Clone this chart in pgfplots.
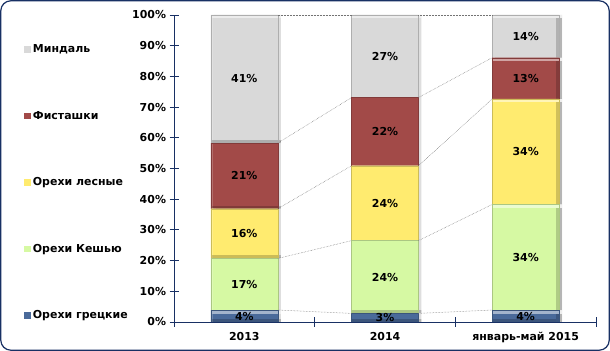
\documentclass[border=0pt]{standalone}
\usepackage{pgfplots}
\pgfplotsset{compat=1.18}
\usepackage{pgfplotstable}
\usepackage{fontspec}
\setmainfont{DejaVu Sans}
\definecolor{navy}{RGB}{24,48,100}
\definecolor{cBlue}{RGB}{74,106,154}
\definecolor{cGreen}{RGB}{214,249,163}
\definecolor{cYellow}{RGB}{255,235,111}
\definecolor{cRed}{RGB}{162,74,72}
\definecolor{cGray}{RGB}{217,217,217}

\pgfplotstableread{
x grec kesh lesn fist mind
0 3.9 16.8 16.2 21.4 41.7
1 2.8 23.7 24.4 22.2 26.9
2 3.9 34.4 34.4 13.4 13.9
}\shares

\pgfplotstableread{
x y l
0 1.95 4
0 12.3 17
0 28.8 16
0 47.6 21
0 79.15 41
1 1.4 3
1 14.65 24
1 38.7 24
1 62.0 22
1 86.55 27
2 1.95 4
2 21.1 34
2 55.5 34
2 79.4 13
2 93.05 14
}\labels

\pgfplotstableread{
x grec kesh lesn fist mind
0.238 3.9 20.7 36.9 58.3 100
0.762 2.8 26.5 50.9 73.1 100
nan nan nan nan nan nan
1.238 2.8 26.5 50.9 73.1 100
1.762 3.9 38.3 72.7 86.1 100
}\serieslines

\newcommand{\ppa}[1]{\pgfpointanchor{path picture bounding box}{#1}}
\tikzset{bevel/.style={
  preaction={fill=black, fill opacity=0.13, draw=none, transform canvas={xshift=3bp}},
  path picture={
    \pgfsetfillopacity{0.5}\pgfsetfillcolor{white}%
    \pgfpathrectanglecorners{\ppa{north west}}{\pgfpointadd{\ppa{north east}}{\pgfpoint{0bp}{-3.5bp}}}%
    \pgfusepath{fill}%
    \pgfsetfillopacity{0.2}%
    \pgfpathrectanglecorners{\ppa{south west}}{\pgfpointadd{\ppa{north west}}{\pgfpoint{2.5bp}{-3.5bp}}}%
    \pgfusepath{fill}%
    \pgfsetfillopacity{0.18}\pgfsetfillcolor{black}%
    \pgfpathrectanglecorners{\pgfpointadd{\ppa{south east}}{\pgfpoint{-3bp}{0bp}}}{\pgfpointadd{\ppa{north east}}{\pgfpoint{0bp}{-3.5bp}}}%
    \pgfusepath{fill}%
    \pgfsetfillopacity{0.2}%
    \pgfpathrectanglecorners{\ppa{south west}}{\pgfpointadd{\ppa{south east}}{\pgfpoint{-3bp}{3bp}}}%
    \pgfusepath{fill}%
  },
}}

\newcommand{\lblfont}{\bfseries\fontsize{11}{13}\selectfont}

\begin{document}
\begin{tikzpicture}
\path[use as bounding box] (0,0) rectangle (610bp,351bp);
\draw[navy, fill=white, line width=1.2bp, rounded corners=10bp] (0.8bp,0.8bp) rectangle (609.2bp,350.2bp);
\begin{axis}[
  at={(174bp,29bp)}, anchor=south west,
  scale only axis, width=422bp, height=307bp,
  ybar stacked, bar width=0.476,
  xmin=-0.5, xmax=2.5, ymin=0, ymax=100,
  axis x line*=bottom, axis y line*=left,
  axis line style={navy, line width=0.9bp, -},
  xtick={-0.5,0.5,1.5,2.5},
  x tick label as interval,
  xticklabels={2013,2014,январь-май 2015,},
  xticklabel style={yshift=-2bp},
  ytick={0,10,...,100},
  yticklabel={\pgfmathprintnumber{\tick}\%},
  /pgf/number format/assume math mode=true,
  tick align=center, major tick length=9bp,
  tick style={navy, line width=0.9bp},
  tick label style={font=\lblfont},
  legend image code/.code={\fill[#1, draw=none] (0bp,-3.2bp) rectangle (6.5bp,3.2bp);},
  legend style={draw=none, fill=none, at={(-0.362,0.917)}, anchor=north west,
    row sep=53bp, font=\lblfont},
  legend cell align=left,
]
\addplot[fill=cBlue, draw=cBlue!80!black, line width=0.3bp, bevel, forget plot] table[x=x,y=grec]{\shares};
\addplot[fill=cGreen, draw=cGreen!80!black, line width=0.3bp, bevel, forget plot] table[x=x,y=kesh]{\shares};
\addplot[fill=cYellow, draw=cYellow!80!black, line width=0.3bp, bevel, forget plot] table[x=x,y=lesn]{\shares};
\addplot[fill=cRed, draw=cRed!80!black, line width=0.3bp, bevel, forget plot] table[x=x,y=fist]{\shares};
\addplot[fill=cGray, draw=cGray!80!black, line width=0.3bp, bevel, forget plot] table[x=x,y=mind]{\shares};
\addlegendimage{fill=cGray, draw=none}
\addlegendentry{Миндаль}
\addlegendimage{fill=cRed, draw=none}
\addlegendentry{Фисташки}
\addlegendimage{fill=cYellow, draw=none}
\addlegendentry{Орехи лесные}
\addlegendimage{fill=cGreen, draw=none}
\addlegendentry{Орехи Кешью}
\addlegendimage{fill=cBlue, draw=none}
\addlegendentry{Орехи грецкие}
\end{axis}
\begin{axis}[
  at={(174bp,29bp)}, anchor=south west,
  scale only axis, width=422bp, height=307bp,
  xmin=-0.5, xmax=2.5, ymin=0, ymax=100,
  hide axis, unbounded coords=jump,
]
\addplot[black!55, densely dotted, line width=0.5bp] table[x=x,y=grec]{\serieslines};
\addplot[black!55, densely dotted, line width=0.5bp] table[x=x,y=kesh]{\serieslines};
\addplot[black!55, densely dotted, line width=0.5bp] table[x=x,y=lesn]{\serieslines};
\addplot[black!55, densely dotted, line width=0.5bp] table[x=x,y=fist]{\serieslines};
\addplot[black!55, densely dotted, line width=0.5bp] table[x=x,y=mind]{\serieslines};
\addplot[only marks, mark=none, point meta=explicit symbolic,
  nodes near coords={\pgfplotspointmeta\%},
  nodes near coords style={anchor=center, font=\lblfont, text=black}]
  table[x=x,y=y,meta=l]{\labels};
\end{axis}
\end{tikzpicture}
\end{document}
